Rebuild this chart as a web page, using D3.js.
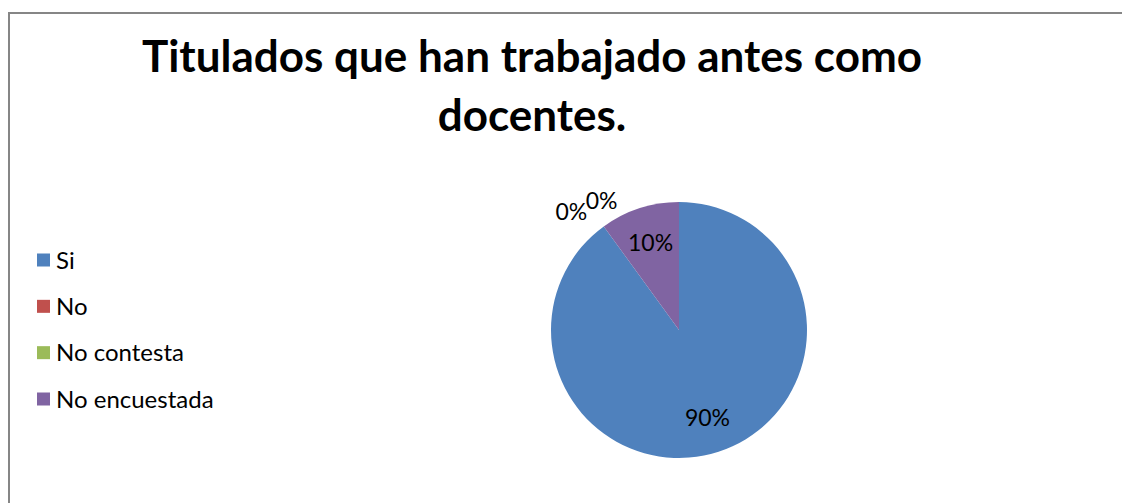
<!DOCTYPE html>
<html>
<head>
<meta charset="utf-8">
<script src="https://cdn.jsdelivr.net/npm/d3@7"></script>
<style>
  html, body { margin: 0; padding: 0; background: #fff; }
  svg { display: block; }
  text { font-family: Lato, "Open Sans", sans-serif; }
</style>
</head>
<body>
<svg id="chart" width="1122" height="503"></svg>
<script>
// Survey answers: graduates who have previously worked as teachers
const categories = ["Si", "No", "No contesta", "No encuestada"];
const values = [90, 0, 0, 10];
const colors = ["#4F81BD", "#C0504D", "#9BBB59", "#8064A2"];
const titleLines = ["Titulados que han trabajado antes como", "docentes."];

const W = 1122, H = 503;
const svg = d3.select("#chart");

// frame (runs past the right and bottom edges)
svg.append("rect")
  .attr("x", 9).attr("y", 13)
  .attr("width", W + 10).attr("height", H + 10)
  .attr("fill", "#fff")
  .attr("stroke", "#868686")
  .attr("stroke-width", 2);

// title
svg.append("g").selectAll("text")
  .data(titleLines)
  .join("text")
  .attr("x", 532)
  .attr("y", (d, i) => 72 + i * 59)
  .attr("text-anchor", "middle")
  .attr("font-weight", 700)
  .attr("font-size", 44)
  .attr("fill", "#000")
  .text(d => d);

// legend
const legend = svg.append("g");
const legendY = d3.scalePoint().domain(categories).range([260, 399]);
const items = legend.selectAll("g")
  .data(categories)
  .join("g")
  .attr("transform", d => `translate(37,${legendY(d)})`);
items.append("rect")
  .attr("x", 0).attr("y", -6.5)
  .attr("width", 13).attr("height", 13)
  .attr("fill", (d, i) => colors[i]);
items.append("text")
  .attr("x", 19).attr("y", 0)
  .attr("dy", "0.36em")
  .attr("font-size", 24)
  .attr("fill", "#000")
  .text(d => d);

// pie
const cx = 679, cy = 330, R = 128;
const data = categories.map((c, i) => ({ name: c, value: values[i], color: colors[i] }));
const pie = d3.pie().sort(null).value(d => d.value);
const arcs = pie(data);
const arc = d3.arc().innerRadius(0).outerRadius(R);

const g = svg.append("g").attr("transform", `translate(${cx},${cy})`);
g.selectAll("path")
  .data(arcs)
  .join("path")
  .attr("d", arc)
  .attr("fill", d => d.data.color);

// data labels: inside for real slices, pushed outside and fanned for empty ones
const total = d3.sum(values);
let zeroIdx = 0;
const zeroOffsets = [-0.11, 0.09];
const zeroRadii = [160, 151];
const labelPos = d => {
  let a = (d.startAngle + d.endAngle) / 2;
  let r = R * 0.72;
  if (d.value === 0) {
    a += zeroOffsets[zeroIdx % 2];
    r = zeroRadii[zeroIdx % 2];
    zeroIdx++;
  }
  return [r * Math.sin(a), -r * Math.cos(a)];
};
g.selectAll("text")
  .data(arcs)
  .join("text")
  .each(function (d) {
    const [x, y] = labelPos(d);
    d3.select(this).attr("x", x).attr("y", y);
  })
  .attr("text-anchor", "middle")
  .attr("dy", "0.36em")
  .attr("font-size", 23)
  .attr("fill", "#000")
  .text(d => Math.round(d.value / total * 100) + "%");
</script>
</body>
</html>
